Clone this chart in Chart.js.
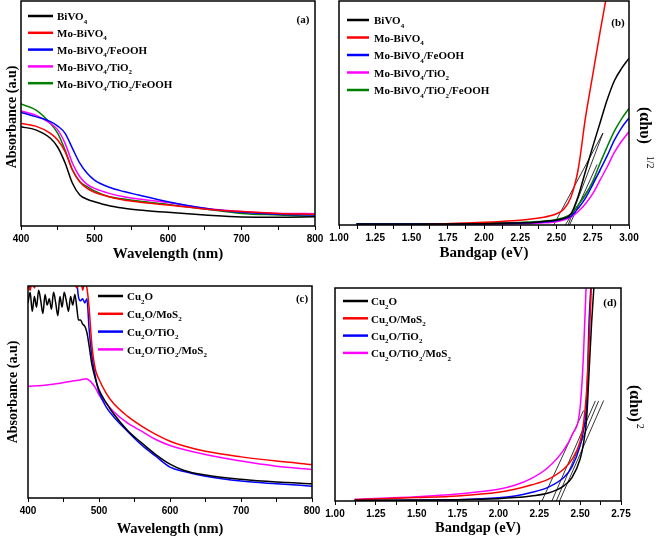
<!DOCTYPE html>
<html>
<head>
<meta charset="utf-8">
<title>Absorbance and bandgap plots</title>
<script src="https://cdn.jsdelivr.net/npm/chart.js@4.4.1/dist/chart.umd.min.js"></script>
<style>
  body { margin: 0; background: #fff; }
  #wrap { position: relative; width: 661px; height: 538px; }
  #wrap canvas { position: absolute; left: 0; top: 0; }
</style>
</head>
<body>
<div id="wrap">
  <canvas id="chartA" width="661" height="538"></canvas>
  <canvas id="chartB" width="661" height="538"></canvas>
  <canvas id="chartC" width="661" height="538"></canvas>
  <canvas id="chartD" width="661" height="538"></canvas>
</div>
<script>
// ---- (a) absorbance of the BiVO4 samples (a.u., 0-100 = frame height) ----
const aWavelength = [400, 420, 440, 450, 460, 470, 480, 490, 500, 520, 540, 560, 600, 650, 700, 750, 800];
const aBiVO4      = [44.1, 42.7, 39.0, 35.0, 28.0, 19.0, 13.8, 11.9, 10.8, 9.0, 7.9, 7.1, 6.1, 4.9, 4.0, 3.9, 4.1];
const aMoBiVO4    = [45.6, 44.4, 41.2, 38.2, 33.0, 24.9, 19.7, 16.7, 15.0, 13.0, 11.6, 10.7, 9.3, 7.6, 6.4, 5.6, 5.2];
const aFeOOH      = [50.5, 48.6, 46.4, 44.4, 41.2, 34.5, 27.9, 23.4, 20.4, 17.2, 15.3, 13.8, 10.8, 7.9, 6.1, 5.2, 4.9];
const aTiO2       = [51.1, 49.3, 45.6, 42.7, 36.7, 27.9, 21.9, 18.5, 16.7, 14.5, 13.0, 12.0, 10.4, 7.9, 6.4, 5.6, 5.5];
const aTiO2FeOOH  = [54.2, 51.6, 45.6, 41.2, 33.8, 24.9, 19.7, 17.5, 15.6, 13.0, 12.0, 11.1, 9.6, 7.6, 5.6, 4.9, 4.3];

// ---- (b) Tauc plot (ahv)^1/2 of the BiVO4 samples ----
const bEnergy     = [1.12, 1.6, 2.0, 2.2, 2.3, 2.4, 2.5, 2.55, 2.6, 2.65, 2.7, 2.75, 2.8, 2.85, 2.9, 2.95, 3.0];
const bBiVO4      = [0.4, 0.4, 0.6, 0.9, 1.0, 1.5, 2.2, 3.0, 5.0, 13, 24, 35, 45.5, 56, 64.5, 70, 74.4];
const bMoBiVO4    = [null, 0.3, 1.2, 1.9, 2.5, 3.3, 5.0, 7.0, 12.5, 25, 48, 67, 86, 104, null, null, null];
const bFeOOH      = [0.4, 0.4, 0.6, 0.8, 1.0, 1.3, 2.0, 2.8, 4.0, 7.5, 12, 18, 24.5, 31, 38, 43.5, 47.8];
const bTiO2       = [null, 0.2, 0.3, 0.5, 0.6, 0.9, 1.5, 2.2, 3.5, 6.0, 9.5, 14, 20, 26, 32.5, 37.5, 41.7];
const bTiO2FeOOH  = [0.5, 0.5, 0.8, 1.0, 1.3, 1.7, 2.5, 3.3, 5.0, 9.0, 13.5, 19.5, 27.5, 35, 42, 47.5, 52];
// tangent lines: from (start, 0) to (end, top)
const bTangentStart = [2.48, 2.58, 2.56, 2.59];
const bTangentEnd   = [2.82, 2.82, 2.80, 2.78];
const bTangentTop   = [41, 41, 24, 27];

// ---- (c) absorbance of the Cu2O samples ----
const cWavelength = [400, 403, 406, 409, 412, 415, 418, 421, 424, 427, 430, 433, 436, 439, 442, 445, 448, 451, 454, 457, 460, 463, 466, 469,
                     471, 474, 477, 480, 483, 486, 490, 495, 500, 510, 520, 540, 560, 580, 600, 620, 650, 700, 750, 800];
const cCu2O       = [92, 97, 88, 95, 90, 98, 93, 87, 96, 91, 94, 89, 97, 92, 86, 95, 90, 97, 93, 88, 95, 91, 96, 89,
                     84, 84, 82, 81, 78, 72, 63, 56, 51, 45, 40, 32, 26, 20.5, 16, 13, 10.8, 8.8, 7.5, 6.7];
const cMoS2       = [101, 98, 103, 99, 104, 106, 102, 105, 107, 104, 106, 103, 108, 105, 104, 106, 103, 107, 105, 104, 106, 103, 101, 99,
                     103, 105, 98, 102, 99, 90, 72, 60.5, 56, 49.5, 44.8, 38.6, 33.9, 30, 26.8, 24.5, 22, 19.4, 17.4, 15.8];
const cTiO2       = [103, 99, 104, 106, 102, 105, 107, 103, 106, 104, 108, 105, 103, 107, 104, 106, 105, 103, 107, 104, 106, 105, 103, 101,
                     95, 93, 94, 92, 94, 80, 67, 57, 50, 43, 38.6, 31.5, 25, 19.7, 14.6, 12.5, 10.3, 8, 6.7, 5.6];
const cMixNm      = [400, 420, 440, 460, 475, 482, 488, 495, 500, 510, 520, 540, 560, 580, 600, 650, 700, 750, 800];
const cTiO2MoS2   = [52.7, 53.1, 53.9, 55, 55.8, 56.3, 55, 51.9, 48.7, 44.8, 40.9, 35.4, 31.5, 27.6, 24.8, 20.5, 17.4, 15, 13.5];

// ---- (d) Tauc plot (ahv)^2 of the Cu2O samples ----
const dEnergy     = [1.12, 1.5, 1.75, 2.0, 2.1, 2.2, 2.3, 2.4, 2.45, 2.5, 2.52, 2.54, 2.555, 2.57, 2.59];
const dCu2O       = [0.3, 0.5, 0.6, 1.1, 1.6, 2.4, 3.6, 7.1, 11, 19.7, 26.8, 39, 61, 83.5, 107];
const dMoS2       = [0.6, 1.6, 2.4, 4.1, 5.5, 7.5, 10, 15, 19.5, 28, 36, 52, 75, 103, null];
const dTiO2       = [0.2, 0.4, 0.6, 1.5, 2.4, 4.0, 6.3, 11, 16, 26, 33, 47, 85, 106, null];
const dTiO2MoS2   = [0.8, 2.0, 3.3, 5.5, 7.4, 10.5, 15.5, 24, 31, 44, 68, 108, null, null, null];
const dTangentStart = [2.266, 2.327, 2.354, 2.374];
const dTangentEnd   = [2.521, 2.593, 2.613, 2.644];
const dTangentTop   = [42.5, 47, 47, 47.2];

// legend texts ("_4" = subscript, "^{..}" = superscript)
const bivoLabels = ['BiVO_4', 'Mo-BiVO_4', 'Mo-BiVO_4/FeOOH', 'Mo-BiVO_4/TiO_2', 'Mo-BiVO_4/TiO_2/FeOOH'];
const cuLabels   = ['Cu_2O', 'Cu_2O/MoS_2', 'Cu_2O/TiO_2', 'Cu_2O/TiO_2/MoS_2'];

const bivoColors = ['#000000', '#ff0000', '#0000ff', '#ff00ff', '#008000'];
const cuColors   = ['#000000', '#ff0000', '#0000ff', '#ff00ff'];

const serif = '"Liberation Serif", "Times New Roman", serif';
const sans = '"Liberation Sans", Arial, sans-serif';

function splitRich(text) {
  const parts = [];
  const re = /_(\d)|\^\{([^}]*)\}/g;
  let last = 0, m;
  while ((m = re.exec(text))) {
    if (m.index > last) parts.push({ t: text.slice(last, m.index), kind: 0 });
    if (m[1]) parts.push({ t: m[1], kind: 1 });
    else parts.push({ t: m[2], kind: -1 });
    last = re.lastIndex;
  }
  if (last < text.length) parts.push({ t: text.slice(last), kind: 0 });
  return parts;
}

// draws text with sub/superscripts, baseline at y
function drawRich(ctx, text, x, y, size, align, supGap) {
  const pieces = splitRich(text).map(p => {
    const s = p.kind === 0 ? size : Math.round(size * 0.62);
    const font = (p.kind === -1 ? '' : 'bold ') + s + 'px ' + serif;
    ctx.font = font;
    return {
      t: p.t, font: font, w: ctx.measureText(p.t).width,
      dy: p.kind === 1 ? size * 0.3 : (p.kind === -1 ? -size * 0.45 : 0),
      gap: p.kind === -1 ? (supGap || 1) : 0
    };
  });
  const total = pieces.reduce((s, p) => s + p.w + p.gap, 0);
  let px = align === 'center' ? x - total / 2 : x;
  ctx.textAlign = 'left';
  ctx.textBaseline = 'alphabetic';
  pieces.forEach(p => {
    px += p.gap;
    ctx.font = p.font;
    ctx.fillText(p.t, px, y + p.dy);
    px += p.w;
  });
}

// frame, legend, panel letter and y title
function makeDecor(d) {
  return {
    id: 'decor',
    afterDraw(chart) {
      const ctx = chart.ctx;
      const a = chart.chartArea;
      ctx.save();
      ctx.strokeStyle = '#000';
      ctx.lineWidth = 1.5;
      ctx.strokeRect(a.left, a.top, a.right - a.left, a.bottom - a.top);

      d.labels.forEach((label, i) => {
        const y = d.legendTop + i * d.legendStep;
        ctx.strokeStyle = d.colors[i];
        ctx.lineWidth = 2.5;
        ctx.beginPath();
        ctx.moveTo(d.lineX0, y);
        ctx.lineTo(d.lineX1, y);
        ctx.stroke();
        ctx.fillStyle = '#000';
        drawRich(ctx, label, d.textX, y + 4.3, 11, 'left');
      });

      ctx.fillStyle = '#000';
      ctx.font = 'bold 11px ' + serif;
      ctx.textAlign = 'center';
      ctx.textBaseline = 'alphabetic';
      ctx.fillText(d.tag, d.tagX, d.tagY + 3.5);

      const t = d.yTitle;
      ctx.translate(t.x, t.y);
      ctx.rotate(t.rot);
      drawRich(ctx, t.text, 0, 0, t.size, t.align, t.supGap);
      ctx.restore();
    }
  };
}

function tangentSets(starts, ends, tops) {
  return starts.map((s, i) => ({
    label: 'tangent',
    data: [{ x: s, y: 0 }, { x: ends[i], y: tops[i] }],
    borderColor: '#000',
    borderWidth: 0.8,
    pointRadius: 0
  }));
}

function curveSets(xs, series, names, colors) {
  return series.map((ys, i) => ({
    label: names[i].replace(/_/g, ''),
    data: ys.map((y, j) => ({ x: Array.isArray(xs[0]) ? xs[i][j] : xs[j], y: y })),
    borderColor: colors[i],
    borderWidth: 1.5,
    pointRadius: 0,
    cubicInterpolationMode: 'monotone'
  }));
}

function makePanel(id, p) {
  new Chart(document.getElementById(id), {
    type: 'line',
    data: { datasets: p.datasets },
    options: {
      responsive: false,
      animation: false,
      devicePixelRatio: 1,
      layout: {
        padding: { left: p.area.left, top: p.area.top, right: 661 - p.area.right, bottom: 538 - p.area.bottom - p.axisHeight }
      },
      plugins: { legend: { display: false }, tooltip: { enabled: false } },
      scales: {
        x: {
          type: 'linear',
          min: p.xMin,
          max: p.xMax,
          afterFit: s => { s.height = p.axisHeight; },
          border: { display: false },
          grid: { display: true, drawOnChartArea: false, drawTicks: true, tickLength: 4, color: '#000', tickWidth: 1 },
          ticks: {
            stepSize: p.step,
            autoSkip: false,
            maxRotation: 0,
            padding: 3,
            color: '#000',
            font: { family: sans, size: 10, weight: 'bold' },
            callback: v => {
              const k = v / p.labelEvery;
              return Math.abs(k - Math.round(k)) < 1e-6 ? v.toFixed(p.decimals) : '';
            }
          },
          title: {
            display: true,
            text: p.xTitle,
            color: '#000',
            font: { family: serif, size: p.titleSize, weight: 'bold' },
            padding: { top: 0, bottom: p.titlePad }
          }
        },
        y: { display: false, min: 0, max: 100 }
      }
    },
    plugins: [makeDecor(p.decor)]
  });
}

// (a)
makePanel('chartA', {
  area: { left: 21, right: 315, top: 1, bottom: 226 },
  axisHeight: 40, titlePad: 3, titleSize: 15,
  xMin: 400, xMax: 800, step: 50, labelEvery: 100, decimals: 0,
  xTitle: 'Wavelength (nm)',
  datasets: curveSets(aWavelength, [aBiVO4, aMoBiVO4, aFeOOH, aTiO2, aTiO2FeOOH], bivoLabels, bivoColors),
  decor: {
    labels: bivoLabels, colors: bivoColors,
    lineX0: 28, lineX1: 53, textX: 57, legendTop: 16, legendStep: 16.8,
    tag: '(a)', tagX: 303, tagY: 19,
    yTitle: { text: 'Absorbance (a.u)', x: 16, y: 117, rot: -Math.PI / 2, size: 14, align: 'center' }
  }
});

// (b)
makePanel('chartB', {
  area: { left: 339, right: 629, top: 1, bottom: 225 },
  axisHeight: 40, titlePad: 3, titleSize: 15,
  xMin: 1, xMax: 3, step: 0.125, labelEvery: 0.25, decimals: 2,
  xTitle: 'Bandgap (eV)',
  datasets: curveSets(bEnergy, [bBiVO4, bMoBiVO4, bFeOOH, bTiO2, bTiO2FeOOH], bivoLabels, bivoColors)
    .concat(tangentSets(bTangentStart, bTangentEnd, bTangentTop)),
  decor: {
    labels: bivoLabels, colors: bivoColors,
    lineX0: 347, lineX1: 369, textX: 374, legendTop: 20, legendStep: 17.5,
    tag: '(b)', tagX: 618, tagY: 22,
    yTitle: { text: '(αhυ)^{1/2}', x: 640, y: 107, rot: Math.PI / 2, size: 16, align: 'left', supGap: 12 }
  }
});

// (c)
makePanel('chartC', {
  area: { left: 28, right: 312, top: 286, bottom: 498 },
  axisHeight: 40, titlePad: 0, titleSize: 14.5,
  xMin: 400, xMax: 800, step: 50, labelEvery: 100, decimals: 0,
  xTitle: 'Wavelength (nm)',
  datasets: curveSets([cWavelength, cWavelength, cWavelength, cMixNm], [cCu2O, cMoS2, cTiO2, cTiO2MoS2], cuLabels, cuColors),
  decor: {
    labels: cuLabels, colors: cuColors,
    lineX0: 98, lineX1: 123, textX: 127, legendTop: 296, legendStep: 17.8,
    tag: '(c)', tagX: 302, tagY: 298,
    yTitle: { text: 'Absorbance (a.u)', x: 17, y: 392, rot: -Math.PI / 2, size: 14, align: 'center' }
  }
});

// (d)
makePanel('chartD', {
  area: { left: 335, right: 621, top: 288, bottom: 501 },
  axisHeight: 37, titlePad: 1, titleSize: 14.5,
  xMin: 1, xMax: 2.75, step: 0.125, labelEvery: 0.25, decimals: 2,
  xTitle: 'Bandgap (eV)',
  datasets: curveSets(dEnergy, [dCu2O, dMoS2, dTiO2, dTiO2MoS2], cuLabels, cuColors)
    .concat(tangentSets(dTangentStart, dTangentEnd, dTangentTop)),
  decor: {
    labels: cuLabels, colors: cuColors,
    lineX0: 343, lineX1: 368, textX: 371, legendTop: 301, legendStep: 17.3,
    tag: '(d)', tagX: 610, tagY: 302,
    yTitle: { text: '(αhυ)^{2}', x: 630, y: 385, rot: Math.PI / 2, size: 16, align: 'left', supGap: 2 }
  }
});
</script>
</body>
</html>
